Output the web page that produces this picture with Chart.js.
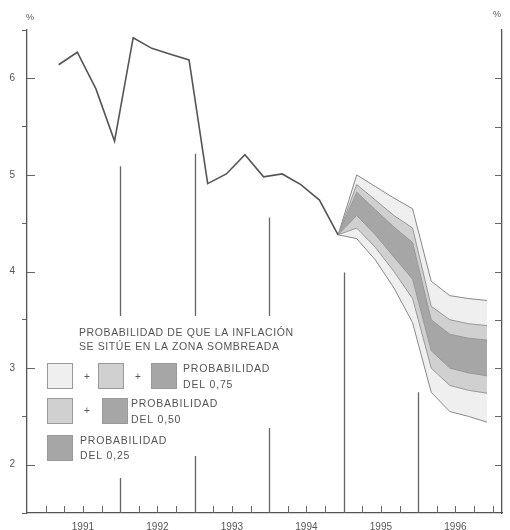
<!DOCTYPE html>
<html><head><meta charset="utf-8">
<script src="https://cdn.jsdelivr.net/npm/chart.js@4"></script>
<style>html,body{margin:0;padding:0;background:#fff;}canvas{display:block;}</style>
</head><body>
<canvas id="c" width="510" height="530"></canvas>
<script>
// ---- data (x in quarters, 0 = start of 1991) ----
const years = ['1991','1992','1993','1994','1995','1996'];
const yearCenters = [2, 6, 10, 14, 18, 22];
const yearBoundaries = [4, 8, 12, 16, 20];
const yearLineTop = [5.09, 5.22, 4.56, 3.99, 2.75];
const obsX = [0.7,1.7,2.7,3.7,4.7,5.7,6.7,7.7,8.7,9.7,10.7,11.7,12.7,13.7,14.7,15.7];
const inflation = [6.14,6.27,5.89,5.35,6.42,6.31,6.25,6.19,4.91,5.01,5.21,4.98,5.01,4.90,4.74,4.38];
const fanX = [15.7,16.7,17.7,18.7,19.7,20.7,21.7,22.7,23.7];
const upper75 = [4.38,5.00,4.88,4.76,4.65,3.90,3.75,3.72,3.70];
const upper50 = [4.38,4.90,4.74,4.58,4.45,3.64,3.50,3.46,3.44];
const upper25 = [4.38,4.82,4.64,4.46,4.30,3.50,3.35,3.31,3.29];
const lower25 = [4.38,4.58,4.38,4.15,3.92,3.18,3.00,2.95,2.92];
const lower50 = [4.38,4.45,4.25,4.00,3.72,3.00,2.82,2.77,2.74];
const lower75 = [4.38,4.34,4.12,3.83,3.47,2.75,2.55,2.50,2.44];
const legendTitle = ['PROBABILIDAD DE QUE LA INFLACIÓN', 'SE SITÚE EN LA ZONA SOMBREADA'];
const legendRows = [['PROBABILIDAD','DEL 0,75'], ['PROBABILIDAD','DEL 0,50'], ['PROBABILIDAD','DEL 0,25']];

const C_LIGHT = '#efefef', C_MID = '#d0d0d0', C_DARK = '#a6a6a6';
const FONT = "'Liberation Sans', Arial, sans-serif";
const TXT = '#555';

const pts = (xs, ys) => xs.map((v, i) => ({x: v, y: ys[i]}));
const band = (data, color, fill, bg) => ({
  data, borderColor: color, borderWidth: 1, pointRadius: 0, tension: 0,
  fill: fill, backgroundColor: bg || 'rgba(0,0,0,0)'
});

const decor = {
  id: 'decor',
  afterDraw(chart) {
    const {ctx, chartArea: a, scales} = chart;
    const x = scales.x, y = scales.y;
    ctx.save();
    // year boundary lines
    ctx.strokeStyle = '#666'; ctx.lineWidth = 1.3;
    yearBoundaries.forEach((b, i) => {
      const px = Math.round(x.getPixelForValue(b)) + 0.5;
      ctx.beginPath(); ctx.moveTo(px, a.bottom); ctx.lineTo(px, y.getPixelForValue(yearLineTop[i])); ctx.stroke();
    });
    // quarter ticks
    ctx.lineWidth = 1;
    for (let q = 0; q <= 24; q++) {
      if (yearBoundaries.includes(q)) continue;
      const px = Math.round(x.getPixelForValue(q)) + 0.5;
      ctx.beginPath(); ctx.moveTo(px, a.bottom); ctx.lineTo(px, a.bottom - 7); ctx.stroke();
    }
    // inward ticks on left axis (integers) and right axis (every 0.5)
    for (let v = 2; v <= 6; v++) {
      const py = Math.round(y.getPixelForValue(v)) + 0.5;
      ctx.beginPath(); ctx.moveTo(a.left, py); ctx.lineTo(a.left + 8, py); ctx.stroke();
    }
    for (let v = 2; v <= 6.01; v += 0.5) {
      const py = Math.round(y.getPixelForValue(v)) + 0.5;
      ctx.beginPath(); ctx.moveTo(a.right, py); ctx.lineTo(a.right - 7, py); ctx.stroke();
    }
    // % labels
    ctx.fillStyle = TXT; ctx.font = '9px ' + FONT; ctx.textAlign = 'center'; ctx.textBaseline = 'middle';
    ctx.fillText('%', a.left + 3, 18);
    ctx.fillText('%', a.right - 5, 15);
    // legend mask
    ctx.fillStyle = '#fff';
    ctx.fillRect(42, 316, 266, 112);
    ctx.fillRect(42, 316, 188, 140);
    ctx.fillRect(42, 316, 133, 162);
    // legend text
    ctx.fillStyle = TXT; ctx.font = '10.5px ' + FONT; ctx.textAlign = 'left';
    ctx.letterSpacing = '0.6px';
    ctx.fillText(legendTitle[0], 79, 333);
    ctx.fillText(legendTitle[1], 79, 347);
    const sq = (sx, sy, col) => {
      ctx.fillStyle = col; ctx.fillRect(sx, sy, 26, 26);
      ctx.strokeStyle = '#9a9a9a'; ctx.lineWidth = 1; ctx.strokeRect(sx + 0.5, sy + 0.5, 25, 25);
    };
    const plus = (px, py) => { ctx.fillStyle = TXT; ctx.font = '10px ' + FONT; ctx.textAlign = 'center'; ctx.fillText('+', px, py); };
    ctx.letterSpacing = '0px';
    sq(47, 363, C_LIGHT); plus(87, 377); sq(98, 363, C_MID); plus(138, 377); sq(151, 363, C_DARK);
    sq(47, 398, C_MID); plus(87, 411); sq(102, 398, C_DARK);
    sq(47, 435, C_DARK);
    ctx.fillStyle = TXT; ctx.font = '10.5px ' + FONT; ctx.textAlign = 'left';
    ctx.letterSpacing = '0.8px';
    ctx.fillText(legendRows[0][0], 183, 369); ctx.fillText(legendRows[0][1], 183, 385);
    ctx.fillText(legendRows[1][0], 131, 404); ctx.fillText(legendRows[1][1], 131, 420);
    ctx.fillText(legendRows[2][0], 80, 441); ctx.fillText(legendRows[2][1], 80, 456);
    ctx.restore();
  }
};

new Chart(document.getElementById('c'), {
  type: 'line',
  data: {
    datasets: [
      {data: pts(obsX, inflation), borderColor: '#555', borderWidth: 1.6, pointRadius: 0, tension: 0, fill: false},
      band(pts(fanX, lower25), '#999', false),
      band(pts(fanX, upper25), '#999', '-1', C_DARK),
      band(pts(fanX, lower50), '#999', false),
      band(pts(fanX, upper50), '#999', '-1', C_MID),
      band(pts(fanX, lower75), '#888', false),
      band(pts(fanX, upper75), '#888', '-1', C_LIGHT)
    ]
  },
  options: {
    responsive: false, animation: false, devicePixelRatio: 1,
    layout: {padding: {top: 30, left: 0, right: 0, bottom: 0}},
    plugins: {legend: {display: false}, tooltip: {enabled: false}},
    scales: {
      x: {
        type: 'linear', min: -1, max: 24.5,
        afterFit: s => { s.height = 17; },
        afterBuildTicks: s => { s.ticks = yearCenters.map(v => ({value: v})); },
        ticks: {autoSkip: false, maxRotation: 0, padding: 8, color: TXT, font: {size: 10, family: FONT},
                callback: (v, i) => years[i]},
        grid: {display: false, drawTicks: false},
        border: {color: '#555', width: 1.3}
      },
      y: {
        type: 'linear', min: 1.5, max: 6.5, position: 'left',
        afterFit: s => { s.width = 27; },
        ticks: {stepSize: 0.5, padding: 7, color: TXT, font: {size: 10, family: FONT},
                callback: v => Number.isInteger(v) ? String(v) : ''},
        grid: {drawOnChartArea: false, tickLength: 5,
               tickColor: c => (c.tick && Number.isInteger(c.tick.value)) ? 'rgba(0,0,0,0)' : '#666'},
        border: {color: '#555', width: 1.3}
      },
      y2: {
        type: 'linear', min: 1.5, max: 6.5, position: 'right',
        afterFit: s => { s.width = 8; },
        ticks: {display: false},
        grid: {drawOnChartArea: false, drawTicks: false},
        border: {color: '#555', width: 1.3}
      }
    }
  },
  plugins: [decor]
});
</script>
</body></html>
